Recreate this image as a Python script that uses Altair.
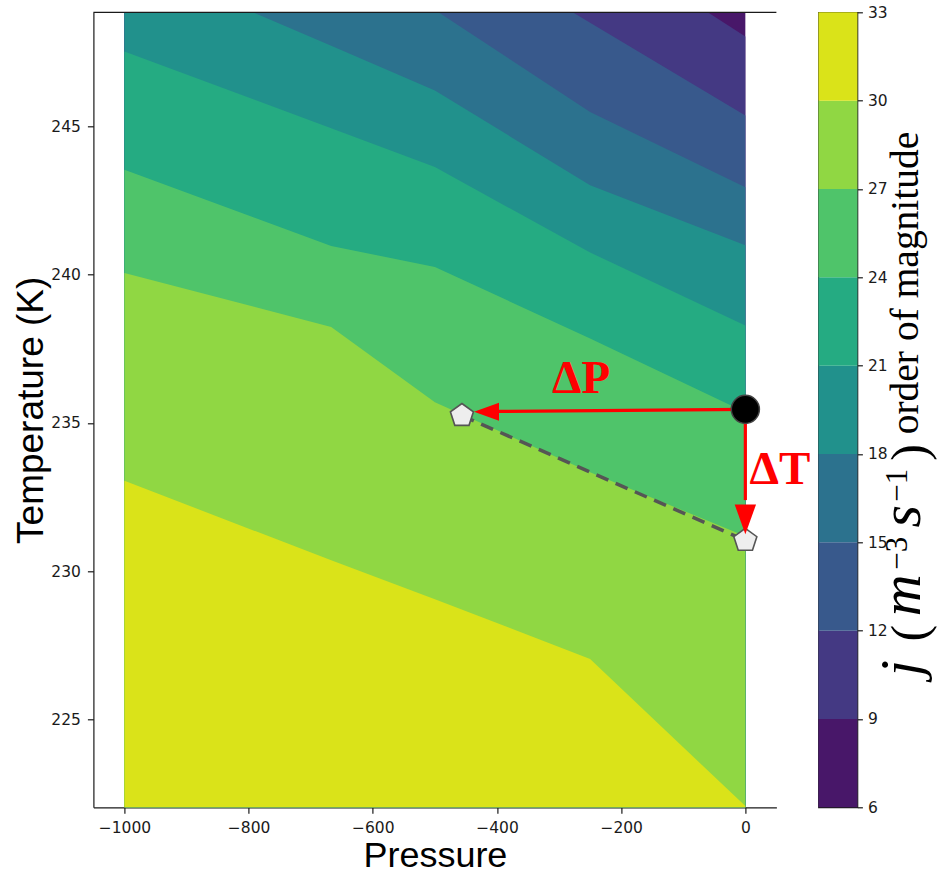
import altair as alt
import pandas as pd

# ---- data ----
LEVELS = [6, 9, 12, 15, 18, 21, 24, 27, 30, 33]
COLORS = ["#481769", "#443983", "#38598c", "#2c728e", "#21918c",
          "#25ab82", "#4fc46a", "#90d743", "#dae319"]

# pressure columns at which the contour boundaries bend
P_GRID = [-1000, -667, -500, -250, 0]
# temperature of each contour boundary (level) at those pressures
B9 = [259.4, 256.3, 254.56, 251.42, 248.03]
B12 = [255.99, 253.2, 251.63, 248.5, 245.37]
B15 = [253.28, 250.5, 248.93, 245.49, 242.95]
B18 = [250.71, 247.72, 246.21, 243.02, 240.99]
B21 = [247.53, 244.94, 243.63, 240.75, 238.29]
B24 = [243.54, 240.97, 240.26, 237.85, 235.36]
B27 = [240.06, 238.24, 235.70, 233.34, 231.18]
B30 = [233.05, 230.37, 229.06, 227.04, 222.08]
T_ABOVE = [265.0] * 5
T_BELOW = 215.0

# annotation points
CIRCLE_P, CIRCLE_T = [0], [235.46]
PENT_P, PENT_T = [-456.5, 0], [235.25, 231.04]
DASH_P0, DASH_T0, DASH_P1, DASH_T1 = [-456.5], [235.25], [0], [231.04]
ARROW_P0 = [0, 0]
ARROW_T0 = [235.46, 235.46]
ARROW_P1 = [-405, 0]          # end of shaft (head base)
ARROW_T1 = [235.39, 232.4]
HEAD_P = [-437, 0]            # arrow tips
HEAD_T = [235.38, 231.25]
HEAD_ANGLE = [0, 270]
HEAD_SIZE = [625, 880]
TEXT_LABELS = ["ΔP", "ΔT"]
TEXT_P = [-264.5, 55.6]
TEXT_T = [236.02, 232.95]

X_TICKS = [-1000, -800, -600, -400, -200, 0]
Y_TICKS = [225, 230, 235, 240, 245]

# colorbar label "j(m^-3 s^-1) order of magnitude", split into pieces
CB_ITALIC = ["j", "m", "s"]
CB_ITALIC_Y = [656, 583, 504]
CB_PAREN = ["(", ")"]
CB_PAREN_Y = [621, 440]
CB_SUP = ["−3", "−1"]
CB_SUP_Y = [541, 473]
CB_WORDS = "order of magnitude"
CB_WORDS_Y = 422

W, H = 683, 795
CB_W = 39

band_labels = [f"{LEVELS[i]}-{LEVELS[i+1]}" for i in range(len(LEVELS) - 1)]
uppers = [T_ABOVE, B9, B12, B15, B18, B21, B24, B27, B30]

rows = []
for lab, up in zip(band_labels, uppers):
    for p, t in zip(P_GRID, up):
        rows.append({"band": lab, "P": p, "lo": T_BELOW, "hi": t})
bands_df = pd.DataFrame(rows)

color_scale = alt.Scale(domain=band_labels, range=COLORS)
xs = alt.Scale(domain=[-1050, 50], nice=False, zero=False)
ys = alt.Scale(domain=[222.04, 248.85], nice=False, zero=False)

x_axis = alt.Axis(values=X_TICKS, format="d", title="Pressure",
                  titleFont="Liberation Sans", titleFontSize=36, titleFontWeight="normal",
                  titleColor="black", titleX=W / 2, titleY=59.5, titleAlign="center",
                  titleBaseline="alphabetic", tickSize=6, labelPadding=7.5, labelFlush=False)
y_axis = alt.Axis(values=Y_TICKS, format="d", title="Temperature (K)",
                  titleFont="Liberation Sans", titleFontSize=37, titleFontWeight="normal",
                  titleColor="black", titleX=-50.7, titleY=H / 2, titleAngle=270,
                  titleAlign="center", titleBaseline="alphabetic", tickSize=6,
                  labelPadding=7, labelFlush=False)

layers = []
for lab in band_labels:
    layers.append(
        alt.Chart(bands_df).transform_filter(alt.datum.band == lab)
        .mark_area(clip=True, interpolate="linear")
        .encode(
            x=alt.X("P:Q", scale=xs, axis=x_axis),
            y=alt.Y("lo:Q", scale=ys, axis=y_axis, stack=None),
            y2="hi:Q",
            color=alt.Color("band:N", scale=color_scale, legend=None),
        )
    )

dash_df = pd.DataFrame({"P0": DASH_P0, "T0": DASH_T0, "P1": DASH_P1, "T1": DASH_T1})
dash = alt.Chart(dash_df).mark_rule(color="#555555", strokeWidth=3.5,
                                    strokeDash=[13, 8], strokeCap="butt").encode(
    x=alt.X("P0:Q", scale=xs, axis=x_axis), y=alt.Y("T0:Q", scale=ys, axis=y_axis),
    x2="P1:Q", y2="T1:Q")

arrow_df = pd.DataFrame({"P0": ARROW_P0, "T0": ARROW_T0, "P1": ARROW_P1, "T1": ARROW_T1})
shafts = alt.Chart(arrow_df).mark_rule(color="#ff0000", strokeWidth=3.2).encode(
    x=alt.X("P0:Q", scale=xs, axis=x_axis), y=alt.Y("T0:Q", scale=ys, axis=y_axis),
    x2="P1:Q", y2="T1:Q")

head_df = pd.DataFrame({"P": HEAD_P, "T": HEAD_T, "ang": HEAD_ANGLE, "sz": HEAD_SIZE})
heads = alt.Chart(head_df).mark_point(
    shape="M0,0 L2,-0.72 L2,0.72 Z", filled=True, color="#ff0000", opacity=1, strokeWidth=0
).encode(
    x=alt.X("P:Q", scale=xs, axis=x_axis), y=alt.Y("T:Q", scale=ys, axis=y_axis),
    angle=alt.Angle("ang:Q", scale=None), size=alt.Size("sz:Q", scale=None, legend=None))

circ_df = pd.DataFrame({"P": CIRCLE_P, "T": CIRCLE_T})
circle = alt.Chart(circ_df).mark_point(shape="circle", filled=True, fill="black",
                                       stroke="#444444", strokeWidth=1.5, size=790,
                                       opacity=1).encode(
    x=alt.X("P:Q", scale=xs, axis=x_axis), y=alt.Y("T:Q", scale=ys, axis=y_axis))

pent_df = pd.DataFrame({"P": PENT_P, "T": PENT_T})
pents = alt.Chart(pent_df).mark_point(
    shape="M0,-1 L0.951,-0.309 L0.588,0.809 L-0.588,0.809 L-0.951,-0.309 Z",
    filled=True, fill="#eeeeee", stroke="#555555", strokeWidth=1.6, size=585, opacity=1
).encode(x=alt.X("P:Q", scale=xs, axis=x_axis), y=alt.Y("T:Q", scale=ys, axis=y_axis))

text_df = pd.DataFrame({"label": TEXT_LABELS, "P": TEXT_P, "T": TEXT_T})
texts = alt.Chart(text_df).mark_text(font="Liberation Serif", fontWeight="bold",
                                     fontSize=47, color="#ff0000", align="center",
                                     baseline="alphabetic").encode(
    x=alt.X("P:Q", scale=xs, axis=x_axis), y=alt.Y("T:Q", scale=ys, axis=y_axis),
    text="label:N")

top_spine = alt.Chart(alt.Data(values=[{}])).mark_rule(color="#1a1a1a", strokeWidth=1.2).encode(
    x=alt.value(0), x2=alt.value(W), y=alt.value(0))

main = alt.layer(*layers, dash, pents, shafts, heads, circle, texts, top_spine).properties(
    width=W, height=H)

# ---- colorbar ----
cb_df = pd.DataFrame({"band": band_labels, "lev_lo": LEVELS[:-1], "lev_hi": LEVELS[1:]})
cb_axis = alt.Axis(orient="right", values=LEVELS, format="d", tickSize=5, labelPadding=5,
                   domain=False, labelFlush=False, title=None)
cb_rects = alt.Chart(cb_df).mark_rect().encode(
    x=alt.value(0), x2=alt.value(CB_W),
    y=alt.Y("lev_lo:Q", scale=alt.Scale(domain=[6, 33], nice=False, zero=False), axis=cb_axis),
    y2="lev_hi:Q",
    color=alt.Color("band:N", scale=color_scale, legend=None),
)

one = alt.Data(values=[{}])
cb_layers = [cb_rects]
for txt, yy in zip(CB_ITALIC, CB_ITALIC_Y):
    cb_layers.append(alt.Chart(one).mark_text(
        text=txt, font="Liberation Serif", fontStyle="italic", fontSize=58, angle=270,
        align="center", baseline="alphabetic", color="black"
    ).encode(x=alt.value(102), y=alt.value(yy)))
for txt, yy in zip(CB_PAREN, CB_PAREN_Y):
    cb_layers.append(alt.Chart(one).mark_text(
        text=txt, font="Liberation Serif", fontSize=50, angle=270,
        align="center", baseline="alphabetic", color="black"
    ).encode(x=alt.value(108), y=alt.value(yy)))
for txt, yy in zip(CB_SUP, CB_SUP_Y):
    cb_layers.append(alt.Chart(one).mark_text(
        text=txt, font="Liberation Serif", fontSize=31, angle=270,
        align="center", baseline="alphabetic", color="black"
    ).encode(x=alt.value(89), y=alt.value(yy)))
cb_layers.append(alt.Chart(one).mark_text(
    text=CB_WORDS, font="Liberation Serif", fontSize=39.5, angle=270,
    align="left", baseline="alphabetic", color="black"
).encode(x=alt.value(100), y=alt.value(CB_WORDS_Y)))

cbar = alt.layer(*cb_layers).properties(
    width=CB_W, height=H, view=alt.ViewBackground(stroke="#1a1a1a", strokeWidth=1.2))

chart = alt.hconcat(main, cbar, spacing=42, bounds="flush",
                    padding={"left": 12.4, "top": 4.3, "right": 0, "bottom": 0}
                    ).resolve_scale(y="independent", x="independent").configure_view(
    strokeWidth=0).configure_axis(
    labelFont="DejaVu Sans", labelFontSize=15.5, labelColor="#1a1a1a",
    tickColor="#1a1a1a", domainColor="#1a1a1a", tickWidth=1.2, domainWidth=1.2, grid=False)

chart.save("out.html", embed_options={"renderer": "svg", "actions": False})
